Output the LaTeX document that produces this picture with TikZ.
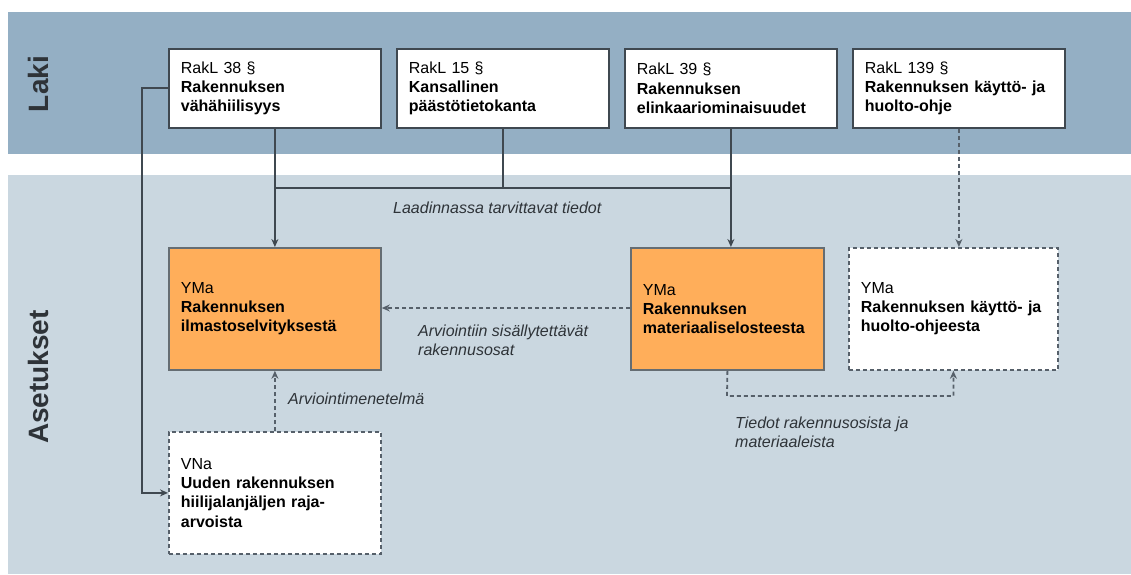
\documentclass[tikz,border=0pt]{standalone}
\usepackage{fontspec}
\setmainfont{Liberation Sans}
\usetikzlibrary{arrows.meta}
\definecolor{lakiband}{HTML}{94AFC4}
\definecolor{asetband}{HTML}{CAD7E0}
\definecolor{orangebox}{HTML}{FFAE5A}
\definecolor{boxline}{HTML}{3F4850}
\definecolor{dashline}{HTML}{56606A}
\definecolor{labtext}{HTML}{2E3338}
\tikzset{
  x=1pt, y=-1pt,
  boxtext/.style={font=\fontsize{16}{19.2}\selectfont, align=left, inner xsep=12pt, inner ysep=0pt, anchor=north west, text=black},
  lawbox/.style={boxtext, draw=boxline, line width=1.8pt, fill=white, text width=188pt, minimum height=79pt},
  ymbox/.style={boxtext, draw=boxline!80, line width=1.8pt, fill=orangebox, minimum height=122pt},
  dbox/.style={boxtext, draw=dashline, line width=1.8pt, dash pattern=on 4pt off 3pt, fill=white, minimum height=122pt},
  conn/.style={draw=boxline, line width=1.8pt},
  arr/.style={-{Stealth[length=8pt,width=7pt]}},
  dconn/.style={draw=dashline, line width=1.8pt, dash pattern=on 4pt off 3pt},
  itlab/.style={font=\fontsize{16}{19}\selectfont\itshape, text=labtext, align=left, anchor=west, inner sep=0pt},
  sidelab/.style={font=\fontsize{28}{30}\selectfont\bfseries, text=labtext, rotate=90},
}
\begin{document}
\begin{tikzpicture}
\useasboundingbox (0,0) rectangle (1131,574);
\fill[white] (0,0) rectangle (1131,574);
\fill[lakiband] (8,12) rectangle (1131,154);
\fill[asetband] (8,175) rectangle (1131,574);
\node[sidelab] (laki) at (38,84) {Laki};
\node[sidelab] (aset) at (38,377) {Asetukset};

\node[lawbox] (r38) at (168,48) {RakL 38 §\\\textbf{Rakennuksen}\\\textbf{vähähiilisyys}};
\node[lawbox] (r15) at (396,48) {RakL 15 §\\\textbf{Kansallinen}\\\textbf{päästötietokanta}};
\node[lawbox] (r39) at (624,48) {RakL 39 §\\\textbf{Rakennuksen}\\\textbf{elinkaariominaisuudet}};
\node[lawbox] (r139) at (852,48) {RakL 139 §\\\textbf{Rakennuksen käyttö- ja}\\\textbf{huolto-ohje}};

\node[ymbox, text width=188pt] (ym1) at (168,247) {YMa\\\textbf{Rakennuksen}\\\textbf{ilmastoselvityksestä}};
\node[ymbox, text width=169pt] (ym2) at (630,247) {YMa\\\textbf{Rakennuksen}\\\textbf{materiaaliselosteesta}};
\node[dbox, text width=185pt] (ym3) at (848,247) {YMa\\\textbf{Rakennuksen käyttö- ja}\\\textbf{huolto-ohjeesta}};
\node[dbox, text width=188pt, minimum height=122pt] (vna) at (168,431) {VNa\\\textbf{Uuden rakennuksen}\\\textbf{hiilijalanjäljen raja-}\\\textbf{arvoista}};

% solid connectors
\coordinate (busL) at (274,188);
\coordinate (busR) at (730,188);
\draw[conn] (busL) -- (busR);
\draw[conn] (r15.south) -- (r15.south |- busL);
\draw[conn, arr] (r38.south) -- (ym1.north);
\draw[conn, arr] (r39.south) -- (r39.south |- ym2.north);
\coordinate (lft) at (142,88);
\draw[conn, arr] (r38.west |- lft) -- (lft) |- (vna.west);

% dashed connectors
\draw[dconn, arr] (r139.south) -- (r139.south |- ym3.north);
\draw[dconn, arr] (ym2.west |- 0,308) -- (ym1.east |- 0,308);
\draw[dconn, arr] (vna.north) -- (ym1.south);
\coordinate (dl) at (727,396);
\draw[dconn, arr] (ym2.south) -- (dl) -| (ym3.south);

% labels
\node[itlab] (l1) at (393,208) {Laadinnassa tarvittavat tiedot};
\node[itlab] (l2) at (418,340) {Arviointiin sisällytettävät\\rakennusosat};
\node[itlab] (l3) at (288,399) {Arviointimenetelmä};
\node[itlab] (l4) at (735,432) {Tiedot rakennusosista ja\\materiaaleista};
\end{tikzpicture}
\end{document}
